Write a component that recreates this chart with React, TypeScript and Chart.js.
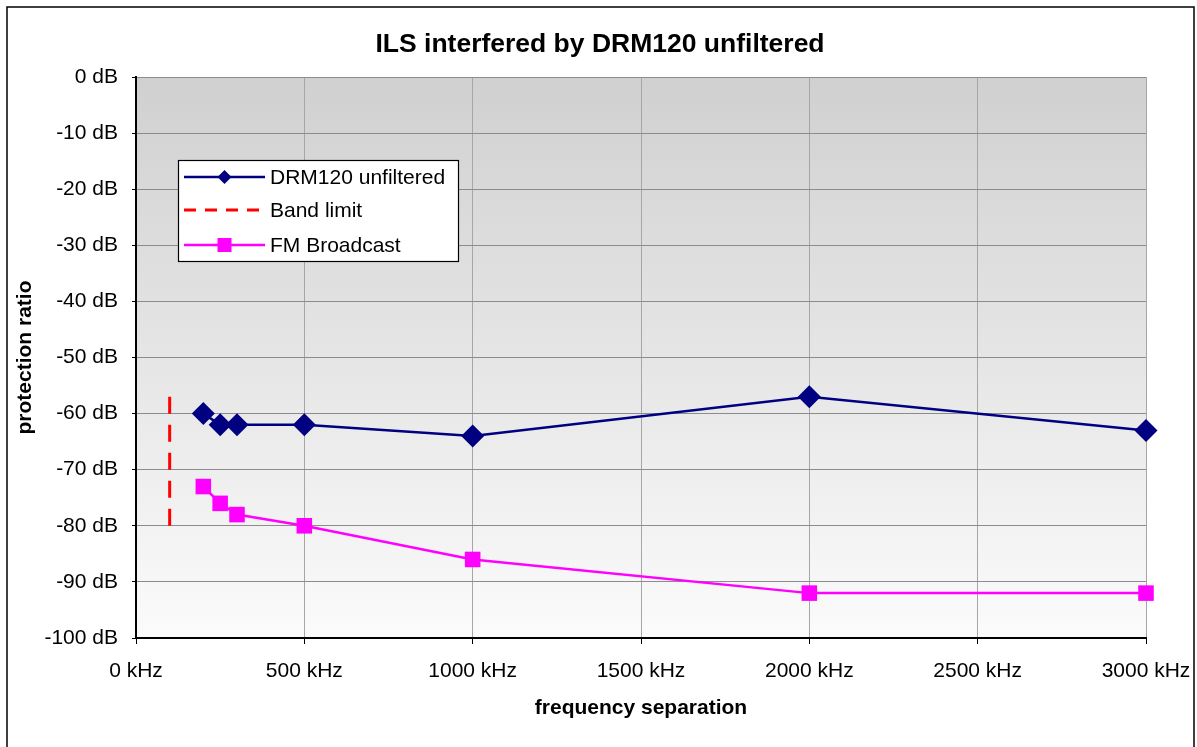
import React, { useEffect, useRef } from "react";
import { Chart, registerables } from "chart.js";

Chart.register(...registerables);

const TITLE = "ILS interfered by DRM120 unfiltered";
const X_TITLE = "frequency separation";
const Y_TITLE = "protection ratio";

const freqKHz = [200, 250, 300, 500, 1000, 2000, 3000];
const drm120Unfiltered = [-60, -62, -62, -62, -64, -57, -63];
const fmBroadcast = [-73, -76, -78, -80, -86, -92, -92];
const bandLimitX = [100, 100];
const bandLimitY = [-57, -80];

const seriesNames = ["DRM120 unfiltered", "Band limit", "FM Broadcast"];

const xMin = 0;
const xMax = 3000;
const xStep = 500;
const yMin = -100;
const yMax = 0;
const yStep = 10;

const FONT = "Arial, 'Liberation Sans', sans-serif";

export default function App() {
  const canvasRef = useRef<HTMLCanvasElement | null>(null);

  useEffect(() => {
    const canvas = canvasRef.current;
    if (!canvas) return;

    const bgPlugin = {
      id: "plotBg",
      beforeDraw(chart: any) {
        const { ctx, chartArea } = chart;
        const { left, top, right, bottom } = chartArea;
        ctx.save();
        ctx.fillStyle = "#ffffff";
        ctx.fillRect(0, 0, chart.width, chart.height);
        const g = ctx.createLinearGradient(0, top, 0, bottom);
        g.addColorStop(0, "#d0d0d0");
        g.addColorStop(1, "#fbfbfb");
        ctx.fillStyle = g;
        ctx.fillRect(left, top, right - left, bottom - top);
        ctx.restore();
      },
      afterDraw(chart: any) {
        const { ctx } = chart;
        ctx.save();
        // outer frame
        ctx.strokeStyle = "#000000";
        ctx.lineWidth = 1.5;
        ctx.strokeRect(7, 7, 1187, 745);

        // title
        ctx.fillStyle = "#000000";
        ctx.font = `bold 26.5px ${FONT}`;
        ctx.textAlign = "center";
        ctx.textBaseline = "alphabetic";
        ctx.fillText(TITLE, 600, 52);

        // legend
        const lx = 178, ly = 160, lw = 280, lh = 101;
        ctx.fillStyle = "#ffffff";
        ctx.fillRect(lx, ly, lw, lh);
        ctx.strokeStyle = "#000000";
        ctx.lineWidth = 1.2;
        ctx.strokeRect(lx + 0.5, ly + 0.5, lw, lh);
        const rows = [177, 210, 245];
        const x0 = 184, x1 = 265, xm = (x0 + x1) / 2;
        ctx.font = `21px ${FONT}`;
        ctx.textBaseline = "middle";
        ctx.textAlign = "left";
        // DRM
        ctx.strokeStyle = "#000080";
        ctx.lineWidth = 2.5;
        ctx.setLineDash([]);
        ctx.beginPath();
        ctx.moveTo(x0, rows[0]);
        ctx.lineTo(x1, rows[0]);
        ctx.stroke();
        ctx.fillStyle = "#000080";
        ctx.beginPath();
        ctx.moveTo(xm, rows[0] - 7);
        ctx.lineTo(xm + 7, rows[0]);
        ctx.lineTo(xm, rows[0] + 7);
        ctx.lineTo(xm - 7, rows[0]);
        ctx.closePath();
        ctx.fill();
        // band limit
        ctx.strokeStyle = "#ff0000";
        ctx.lineWidth = 3;
        ctx.setLineDash([12, 9]);
        ctx.beginPath();
        ctx.moveTo(x0, rows[1]);
        ctx.lineTo(x1, rows[1]);
        ctx.stroke();
        ctx.setLineDash([]);
        // FM
        ctx.strokeStyle = "#ff00ff";
        ctx.lineWidth = 2.5;
        ctx.beginPath();
        ctx.moveTo(x0, rows[2]);
        ctx.lineTo(x1, rows[2]);
        ctx.stroke();
        ctx.fillStyle = "#ff00ff";
        ctx.fillRect(xm - 7, rows[2] - 7, 14, 14);

        ctx.fillStyle = "#000000";
        seriesNames.forEach((n, i) => ctx.fillText(n, 270, rows[i] + 1));
        ctx.restore();
      },
    };

    const chart = new Chart(canvas, {
      type: "line",
      data: {
        datasets: [
          {
            label: seriesNames[0],
            data: freqKHz.map((f, i) => ({ x: f, y: drm120Unfiltered[i] })),
            borderColor: "#000080",
            backgroundColor: "#000080",
            borderWidth: 2.5,
            pointStyle: "rectRot",
            pointRadius: 11.5,
            pointBorderWidth: 0,
            pointHoverRadius: 11.5,
            tension: 0,
            clip: false,
          },
          {
            label: seriesNames[1],
            data: bandLimitX.map((f, i) => ({ x: f, y: bandLimitY[i] })),
            borderColor: "#ff0000",
            backgroundColor: "#ff0000",
            borderWidth: 3,
            borderDash: [17, 11],
            pointRadius: 0,
            pointHoverRadius: 0,
            tension: 0,
            clip: false,
          },
          {
            label: seriesNames[2],
            data: freqKHz.map((f, i) => ({ x: f, y: fmBroadcast[i] })),
            borderColor: "#ff00ff",
            backgroundColor: "#ff00ff",
            borderWidth: 2.5,
            pointStyle: "rect",
            pointRadius: 11,
            pointBorderWidth: 0,
            pointHoverRadius: 11,
            tension: 0,
            clip: false,
          },
        ],
      },
      options: {
        animation: false,
        responsive: false,
        maintainAspectRatio: false,
        events: [],
        layout: { padding: { left: 0, right: 51, top: 77, bottom: 0 } },
        plugins: {
          legend: { display: false },
          tooltip: { enabled: false },
          title: { display: false },
        },
        scales: {
          x: {
            type: "linear",
            min: xMin,
            max: xMax,
            afterFit(scale: any) {
              scale.height = 109;
              scale.paddingLeft = 0;
              scale.paddingRight = 0;
            },
            ticks: {
              stepSize: xStep,
              color: "#000000",
              font: { family: FONT, size: 21 },
              padding: 15,
              maxRotation: 0,
              autoSkip: false,
              callback: (v: any) => `${v} kHz`,
            },
            grid: {
              color: "#a6a6a6",
              lineWidth: 1,
              tickColor: "#000000",
              tickLength: 6,
            },
            border: { color: "#000000", width: 2 },
            title: {
              display: true,
              text: X_TITLE,
              color: "#000000",
              font: { family: FONT, size: 21, weight: "bold" },
              padding: { top: 0, bottom: 26.4 },
            },
          },
          y: {
            type: "linear",
            min: yMin,
            max: yMax,
            afterFit(scale: any) {
              scale.width = 136;
              scale.paddingTop = 0;
              scale.paddingBottom = 0;
            },
            ticks: {
              stepSize: yStep,
              color: "#000000",
              font: { family: FONT, size: 21 },
              padding: 14,
              callback: (v: any) => `${v} dB`,
            },
            grid: {
              color: "#8c8c8c",
              lineWidth: 1,
              tickColor: "#000000",
              tickLength: 4,
            },
            border: { color: "#000000", width: 2 },
            title: {
              display: true,
              text: Y_TITLE,
              color: "#000000",
              font: { family: FONT, size: 21, weight: "bold" },
              padding: { top: 13, bottom: 0 },
            },
          },
        },
      },
      plugins: [bgPlugin],
    } as any);

    return () => chart.destroy();
  }, []);

  return (
    <div style={{ position: "absolute", left: 0, top: 0, width: 1197, height: 747 }}>
      <canvas ref={canvasRef} width={1197} height={747} style={{ display: "block" }} />
    </div>
  );
}
